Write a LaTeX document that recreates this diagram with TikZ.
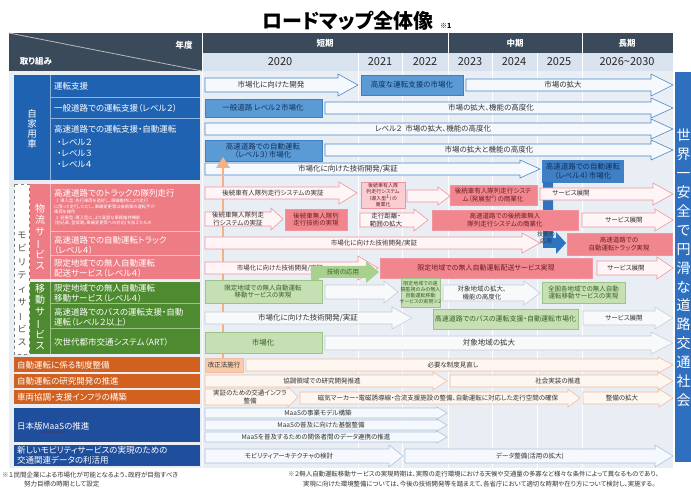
\documentclass[tikz,border=0pt]{standalone}
\usepackage{fontspec}
\usepackage{graphicx}
\setmainfont{Noto Sans CJK JP}[RawFeature=+palt]
\usetikzlibrary{decorations.pathmorphing}
\definecolor{hdr}{HTML}{3B4A5A}
\definecolor{yearbg}{HTML}{D9E3EF}
\definecolor{bodybg}{HTML}{E9EEF5}
\definecolor{jblue}{HTML}{1F62B2}
\definecolor{jline}{HTML}{8DB3DE}
\definecolor{barrc}{HTML}{4A88C8}
\definecolor{bfill}{HTML}{F5F8FC}
\definecolor{bbox}{HTML}{5B9BD5}
\definecolor{bboxd}{HTML}{3F80C5}
\definecolor{btext}{HTML}{10305A}
\definecolor{plab}{HTML}{EE7C85}
\definecolor{pline}{HTML}{F7BCC1}
\definecolor{parr}{HTML}{F0959D}
\definecolor{pfill}{HTML}{FFF5F6}
\definecolor{pbox}{HTML}{F2868E}
\definecolor{pboxl}{HTML}{F9CDD1}
\definecolor{ptext}{HTML}{6A1E25}
\definecolor{glab}{HTML}{4E8A30}
\definecolor{gline}{HTML}{9CC488}
\definecolor{gbox}{HTML}{C6E0B4}
\definecolor{gtext}{HTML}{38602A}
\definecolor{garr}{HTML}{C5CED8}
\definecolor{gfill}{HTML}{F7F9FB}
\definecolor{gapp}{HTML}{A9D18E}
\definecolor{orng}{HTML}{D2601E}
\definecolor{oarr}{HTML}{F2BC9F}
\definecolor{ofill}{HTML}{FEF6F1}
\definecolor{obox}{HTML}{F8CBAD}
\definecolor{oup}{HTML}{F4B183}
\definecolor{navy}{HTML}{1F4F9C}
\definecolor{marr}{HTML}{AEC3DE}
\definecolor{rblue}{HTML}{2E6FC0}
\definecolor{vblue}{HTML}{2F74C0}
\definecolor{txt}{HTML}{333333}
\newcommand{\blkarr}[7]{\draw[#1] (#2,{#4-#5}) -- ({#3-#7},{#4-#5}) -- ({#3-#7},{#4-#6}) -- (#3,#4) -- ({#3-#7},{#4+#6}) -- ({#3-#7},{#4+#5}) -- (#2,{#4+#5}) -- cycle;}
\newcommand{\vchoon}{\rotatebox[origin=c]{90}{ー}}
\begin{document}
\begin{tikzpicture}[x=1pt,y=-1pt,
  ba/.style={draw=barrc,fill=bfill,line width=0.6pt},
  pa/.style={draw=parr,fill=pfill,line width=0.6pt},
  ga/.style={draw=garr,fill=gfill,line width=0.6pt},
  oa/.style={draw=oarr,fill=ofill,line width=0.6pt},
  ma/.style={draw=marr,fill=bfill,line width=0.6pt},
  lt/.style={white,font=\fontsize{8.5}{10}\selectfont,anchor=west,inner sep=0},
  ct/.style={txt,font=\fontsize{7.5}{8.5}\selectfont,inner sep=0,align=center},
  cs/.style={txt,font=\fontsize{6.5}{7.3}\selectfont,inner sep=0,align=center},
  cx/.style={txt,font=\fontsize{5}{5.8}\selectfont,inner sep=0,align=center},
  yr/.style={black!85,font=\fontsize{11}{12}\selectfont,inner sep=0},
  hd/.style={white,font=\fontsize{8.5}{10}\bfseries\selectfont,inner sep=0}]
\useasboundingbox (0,0) rectangle (691,489);
\fill[white] (0,0) rectangle (691,489);
% title
\node[font=\fontsize{20}{23}\bfseries\selectfont,inner sep=0] (title) at (348,21) {ロードマップ全体像};
\node[font=\fontsize{7}{8}\bfseries\selectfont,anchor=west,inner sep=0] (title1) at (440,26) {※1};
% body background
\fill[bodybg] (9,71) rectangle (673,468);
\foreach \xx in {202,358,402,448,492,537,582}{\draw[white,line width=1pt] (\xx,71)--(\xx,468);}
% header
\fill[hdr] (9,33) rectangle (673,53);
\fill[hdr] (9,53) rectangle (202,71);
\fill[yearbg] (202,53.5) rectangle (673,71);
\draw[white,line width=1pt] (202,33)--(202,71) (448,33)--(448,71) (582,33)--(582,71);
\draw[white,line width=1pt] (358,53)--(358,71) (402,53)--(402,71) (492,53)--(492,71) (537,53)--(537,71);
\draw[gray!55!white,line width=0.8pt] (9,33)--(202,71);
\node[hd] (nendo) at (184,45) {年度};
\node[hd] (torikumi) at (36,61) {取り組み};
\node[hd] (tanki) at (325,43) {短期};
\node[hd] (chuki) at (515,43) {中期};
\node[hd] (choki) at (627,43) {長期};
\node[yr] (y20) at (280,62) {2020};
\node[yr] (y21) at (380,62) {2021};
\node[yr] (y22) at (425,62) {2022};
\node[yr] (y23) at (470,62) {2023};
\node[yr] (y24) at (514,62) {2024};
\node[yr] (y25) at (559,62) {2025};
\node[yr] (y26) at (627,62) {2026\textasciitilde 2030};
% ---------- left column ----------
\fill[jblue] (14,75) rectangle (200,180);
\draw[jline,line width=0.6pt] (50,75)--(50,180) (50,97.5)--(200,97.5) (50,118.5)--(200,118.5);
\node[white,font=\fontsize{9.5}{10}\selectfont,align=center,inner sep=0] (jika) at (32,129) {自\\家\\用\\車};
\node[lt] (l1) at (54,86) {運転支援};
\node[lt] (l2) at (54,108) {一般道路での運転支援（レベル２）};
\node[lt] (l3) at (54,129) {高速道路での運転支援・自動運転};
\node[lt] (l3a) at (57,142) {・レベル２};
\node[lt] (l3b) at (57,153) {・レベル３};
\node[lt] (l3c) at (57,164) {・レベル４};
\draw[gray,dashed,fill=white] (14,184) rectangle (29,354);
\node[black!70,font=\fontsize{9}{13.4}\selectfont,align=center,inner sep=0] (mob) at (22,289) {モ\\ビ\\リ\\テ\\ィ\\サ\\\vchoon\\ビ\\ス};
\fill[plab] (30,184) rectangle (200,279);
\draw[pline,line width=0.6pt] (50,184)--(50,279) (50,231.5)--(200,231.5) (50,255.5)--(200,255.5);
\node[white,font=\fontsize{10}{11.5}\selectfont,align=center,inner sep=0] (butsu) at (40,237) {物\\流\\サ\\\vchoon\\ビ\\ス};
\node[lt] (l4) at (54,193) {高速道路でのトラックの隊列走行};
\node[white,font=\fontsize{4.3}{5.4}\selectfont,anchor=north west,inner sep=0,align=left] (l4n) at (54,199) {\ \ 1\ \ 導入型：先行車両を追従し、車線維持により走行\\に限って走行。ただし、車線変更等は後続車の運転手が\\車両を操作\\\ \ 2\ \ 発展型：導入型に、より高度な車群維持機能\\（割込車、登坂路、車線変更等への対応）を加えたもの};
\node[lt] (l5) at (54,240) {高速道路での自動運転トラック};
\node[lt] (l5b) at (54,250) {（レベル４）};
\node[lt] (l6) at (54,263) {限定地域での無人自動運転};
\node[lt] (l6b) at (54,273) {配送サービス（レベル４）};
\fill[glab] (30,282) rectangle (200,354);
\draw[gline,line width=0.6pt] (50,282)--(50,354) (50,303.5)--(200,303.5) (50,328.5)--(200,328.5);
\node[white,font=\fontsize{10}{11.5}\selectfont,align=center,inner sep=0] (idou) at (40,317) {移\\動\\サ\\\vchoon\\ビ\\ス};
\node[lt] (l7) at (54,288) {限定地域での無人自動運転};
\node[lt] (l7b) at (54,298) {移動サービス（レベル４）};
\node[lt] (l8) at (54,312) {高速道路でのバスの運転支援・自動};
\node[lt] (l8b) at (54,322) {運転（レベル２以上）};
\node[lt] (l9) at (54,342) {次世代都市交通システム（ART）};
\fill[orng] (14,357) rectangle (200,372);
\fill[orng] (14,374) rectangle (200,388);
\fill[orng] (14,390) rectangle (200,404);
\node[lt] (l10) at (17,365) {自動運転に係る制度整備};
\node[lt] (l11) at (17,381) {自動運転の研究開発の推進};
\node[lt] (l12) at (17,397) {車両協調・支援インフラの構築};
\fill[navy] (14,408) rectangle (200,442);
\fill[navy] (14,445) rectangle (200,466);
\node[lt] (l13) at (17,426) {日本版MaaSの推進};
\draw[red!80!black,line width=0.4pt,decorate,decoration={snake,amplitude=0.5pt,segment length=2pt}] (42,432)--(66,432);
\node[lt] (l14) at (17,450) {新しいモビリティサービスの実現のための};
\node[lt] (l14b) at (17,460) {交通関連データの利活用};
% right box
\fill[rblue] (675,72) rectangle (700,462);
\node[white,font=\fontsize{14}{18.9}\selectfont,align=center,inner sep=0,anchor=north] (goal) at (683.5,129) {世\\界\\一\\安\\全\\で\\円\\滑\\な\\道\\路\\交\\通\\社\\会};
% ---------- own vehicles ----------
\blkarr{ba}{205}{358}{85}{7}{11}{20}
\node[ct] (a1) at (271,85) {市場化に向けた開発};
\draw[bboxd,fill=bbox] (361,75) rectangle (463,95);
\node[ct,btext] (b1) at (412,85) {高度な運転支援の市場化};
\blkarr{ba}{466}{673}{85}{6}{11}{22}
\node[ct] (a2) at (563,85) {市場の拡大};
\draw[bboxd,fill=bbox] (205,99) rectangle (322,117);
\node[ct,btext] (b2) at (263,108) {一般道路 レベル２市場化};
\blkarr{ba}{325}{673}{108}{6}{10}{22}
\node[ct] (a3) at (491,108) {市場の拡大、機能の高度化};
\blkarr{ba}{205}{673}{129}{6}{10}{22}
\node[ct] (a4) at (433,129) {レベル２\ \ 市場の拡大、機能の高度化};
\draw[bboxd,fill=bbox] (205,140) rectangle (322,161);
\node[ct,btext] (b3) at (263,150.5) {高速道路での自動運転\\（レベル３）市場化};
\blkarr{ba}{325}{673}{150}{6}{10}{22}
\node[ct] (a5) at (489,150) {市場の拡大と機能の高度化};
\blkarr{ba}{205}{540}{169}{6}{9}{20}
\node[ct] (a6) at (348,169) {市場化に向けた技術開発/実証};
\draw[bboxd,fill=bboxd] (542,160) rectangle (623,182);
\node[ct,btext] (b4) at (583,171) {高速道路での自動運転\\（レベル４）市場化};
\fill[vblue] (543,182) -- (553,182) -- (553,238) -- (556,238) -- (556,232) -- (566,243) -- (556,254) -- (556,248) -- (543,248) -- cycle;
% orange up arrow
\draw[oup,line width=2pt] (223,360) -- (223,166);
\fill[oup] (216,168) -- (223,157) -- (230,168) -- cycle;
% ---------- platooning ----------
\blkarr{pa}{205}{357}{193}{6}{11}{18}
\node[cs] (p1) at (273,193) {後続車有人隊列走行システムの実証};
\draw[parr,fill=pboxl] (361,182) rectangle (405,208);
\node[cx,ptext] (pb1) at (383,195) {後続車有人隊\\列走行システム\\（導入型\textsuperscript{1}）の\\商業化};
\blkarr{pa}{407}{450}{196}{6}{9}{12}
\draw[parr,fill=pbox] (450,185) rectangle (537,205);
\node[cs,ptext] (pb2) at (493,195) {後続車有人隊列走行システ\\ム（発展型\textsuperscript{2}）の商業化};
\blkarr{pa}{540}{673}{194}{6}{11}{20}
\node[cs] (p3) at (571,193) {サービス展開};
\blkarr{pa}{205}{283}{219}{7}{11}{12}
\node[cs] (p4) at (238,219) {後続車無人隊列走\\行システムの実証};
\draw[parr,fill=pbox] (285,209) rectangle (347,230);
\node[cs,ptext] (pb3) at (316,219.5) {後続車無人隊列\\走行技術の実現};
\blkarr{pa}{360}{428}{220}{7}{11}{14}
\node[cs] (p5) at (386,220) {走行距離・\\範囲の拡大};
\draw[parr,fill=pbox] (432,210) rectangle (578,230);
\node[cs,ptext] (pb4) at (505,220) {高速道路での後続車無人\\隊列走行システムの商業化};
\blkarr{pa}{582}{673}{220}{7}{11}{18}
\node[cs] (p6) at (624,220) {サービス展開};
% truck
\blkarr{pa}{205}{540}{243}{6}{10}{18}
\node[cs] (p7) at (374,243) {市場化に向けた技術開発/実証};
\node[cx,font=\fontsize{6}{6.8}\selectfont] (ap1) at (546,238) {技術の\\応用};
\draw[parr,fill=pbox] (567,233) rectangle (672,255);
\node[cs,ptext] (pb5) at (619,244) {高速道路での\\自動運転トラック実現};
% delivery
\blkarr{pa}{205}{378}{268}{6}{12}{20}
\node[cs] (p8) at (280,268) {市場化に向けた技術開発/実証};
\fill[gapp] (311,283) -- (311,266) -- (366,266) -- (366,261) -- (379,272) -- (366,283) -- (366,278) -- (319,278) -- (319,283) -- cycle;
\node[cs,gtext] (ap2) at (343,272) {技術の応用};
\draw[parr,fill=pbox] (380,258) rectangle (592,278);
\node[cs,ptext,font=\fontsize{7}{8}\selectfont] (pb6) at (486,268) {限定地域での無人自動運転配送サービス実現};
\blkarr{pa}{597}{673}{268}{7}{11}{16}
\node[cs] (p9) at (626,268) {サービス展開};
% ---------- mobility ----------
\draw[gline,fill=gbox] (205,280) rectangle (322,303);
\node[cs,gtext] (gb1) at (263,291.5) {限定地域での無人自動運転\\移動サービスの実現};
\blkarr{ga}{325}{398}{292}{7}{11}{14}
\draw[gline,fill=gbox] (401,278) rectangle (440,307);
\node[cx,gtext] (gb2) at (420.5,292.5) {限定地域での遠\\隔監視のみの無人\\自動運転移動\\サービスの実現※2};
\blkarr{ga}{443}{540}{293}{8}{12}{16}
\node[cs] (g2) at (482,293) {対象地域の拡大、\\機能の高度化};
\draw[gline,fill=gbox] (542,282) rectangle (625,303);
\node[cs,gtext] (gb3) at (583.5,292.5) {全国各地域での無人自動\\運転移動サービスの実現};
\blkarr{ga}{205}{412}{318}{6}{11}{20}
\node[ct] (g3) at (308,318) {市場化に向けた技術開発/実証};
\draw[gline,fill=gbox] (433,309) rectangle (578,329);
\node[cs,gtext,font=\fontsize{7}{8}\selectfont] (gb4) at (505.5,319) {高速道路でのバスの運転支援・自動運転市場化};
\blkarr{ga}{583}{673}{318}{7}{11}{18}
\node[cs] (g4) at (624,318) {サービス展開};
\draw[gline,fill=gbox] (205,332) rectangle (322,353);
\node[ct,gtext] (gb5) at (263,342.5) {市場化};
\blkarr{ga}{325}{673}{343}{7}{11}{22}
\node[ct] (g5) at (489,343) {対象地域の拡大};
% ---------- institutional ----------
\draw[oarr,fill=obox] (205,358) rectangle (243,372);
\node[cs,black!80] (ob1) at (224,365) {改正法施行};
\blkarr{oa}{246}{673}{365}{6}{8}{15}
\node[cs] (o1) at (453,365) {必要な制度見直し};
\blkarr{oa}{205}{447}{381}{6}{9}{14}
\node[cs] (o2) at (322,381) {協調領域での研究開発推進};
\blkarr{oa}{450}{673}{381}{6}{9}{15}
\node[cs] (o3) at (558,381) {社会実装の推進};
\blkarr{oa}{205}{298}{397}{8}{10}{10}
\node[cs] (o4) at (250,397) {実証のための交通インフラ\\整備};
\blkarr{oa}{300}{580}{398}{6}{9}{12}
\node[cs] (o5) at (438,398) {磁気マーカー・電磁誘導線・合流支援施設の整備、自動運転に対応した走行空間の確保};
\blkarr{oa}{583}{673}{398}{6}{9}{14}
\node[cs] (o6) at (622,398) {整備の拡大};
% ---------- MaaS ----------
\blkarr{ma}{205}{447}{413}{5}{6}{10}
\node[cs] (m1) at (318,413) {MaaSの事業モデル構築};
\blkarr{ma}{205}{447}{425}{5}{6}{10}
\node[cs] (m2) at (321,425) {MaaSの普及に向けた基盤整備};
\blkarr{ma}{205}{447}{437}{5}{6}{10}
\node[cs] (m3) at (316,437) {MaaSを普及するための関係者間のデータ連携の推進};
\blkarr{ma}{205}{403}{456}{7}{11}{14}
\node[cs] (n1) at (289,456) {モビリティアーキテクチャの検討};
\blkarr{ma}{405}{673}{456}{7}{11}{18}
\node[cs] (n2) at (530,456) {データ整備(活用の拡大)};
% ---------- footnotes ----------
\node[txt,font=\fontsize{6.5}{7.5}\selectfont,anchor=west,inner sep=0] (fn1) at (2,475) {※１民間企業による市場化が可能となるよう、政府が目指すべき};
\node[txt,font=\fontsize{6.5}{7.5}\selectfont,anchor=west,inner sep=0] (fn1b) at (24,484) {努力目標の時期として設定};
\node[txt,font=\fontsize{6.4}{7.5}\selectfont,anchor=west,inner sep=0] (fn2) at (288,474) {※２無人自動運転移動サービスの実現時期は、実際の走行環境における天候や交通量の多寡など様々な条件によって異なるものであり、};
\node[txt,font=\fontsize{6.4}{7.5}\selectfont,anchor=west,inner sep=0] (fn2b) at (303,484) {実現に向けた環境整備については、今後の技術開発等を踏まえて、各省庁において適切な時期や在り方について検討し、実施する。};
\end{tikzpicture}
\end{document}
